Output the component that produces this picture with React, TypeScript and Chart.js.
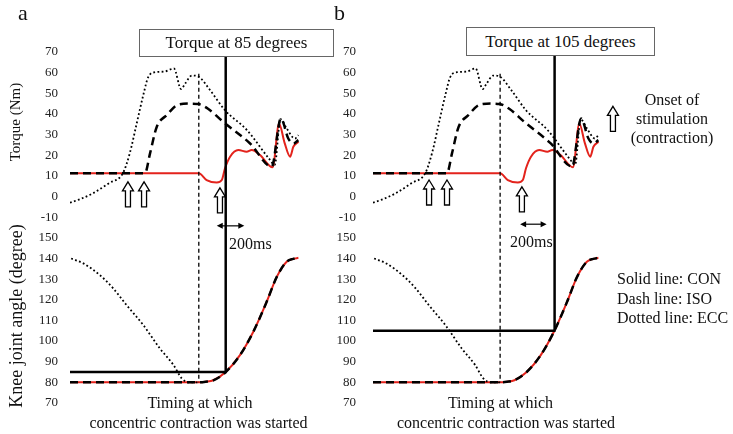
import React, { useEffect, useRef } from 'react';
import { Chart, registerables } from 'chart.js';
Chart.register(...registerables);

// ---- data (time in % of window, torque in Nm, angle in degrees) ----
const eccTorqueTime = [0, 5, 10, 17, 23, 26, 29, 32, 34, 37, 41, 45.2, 48.3, 50, 53, 56, 61, 67.4, 77, 87, 89, 91.5, 94.2, 97.8, 99.3];
const eccTorque = [-3, -1, 1.6, 6.5, 11.3, 21, 35.4, 49.8, 57.8, 60.2, 60.5, 62, 52, 54.6, 58.6, 58, 51.4, 41.8, 32.1, 17.7, 15.3, 37.5, 33, 28.1, 29.7];

const isoTorqueTime = [0, 32.6, 34.8, 37.7, 42, 47, 52, 55.8, 60, 66.7, 78.3, 87.7, 91.7, 94.9, 97.1, 99.3];
const isoTorque = [11.3, 11.3, 20.9, 33.7, 39.4, 44.5, 45, 44.8, 42.5, 36.1, 25.7, 14.5, 37.8, 28.1, 25.7, 27.3];

const conTorqueTime = [0, 56, 59.4, 63.8, 66, 67.4, 69.6, 73.2, 76.8, 79, 82.6, 88.1, 90.9, 93.3, 95.7, 97.1, 99.3];
const conTorque = [11.3, 11.3, 8, 6.8, 8, 13.7, 19.3, 22.5, 21.7, 22.5, 20.1, 14.2, 35.4, 26, 19.3, 24.1, 26.5];

const eccAngleTime = [0.5, 6, 13, 18.8, 24.6, 31.9, 39.1, 45, 48.6, 52, 56];
const eccAngle = [140, 137.5, 131.9, 125.5, 117.4, 107.7, 96.4, 88.4, 81.9, 80, 80];

const conIsoAngleTime = [0, 56, 59, 62.3, 67.7, 73.9, 79.7, 85.5, 89.9, 94.2, 97, 99.3];
const conIsoAngle = [80, 80, 80.3, 81, 85, 93.2, 104.5, 119, 131.1, 138.4, 139.8, 140.3];

const torqueTicks = [-10, 0, 10, 20, 30, 40, 50, 60, 70];
const angleTicks = [70, 80, 90, 100, 110, 120, 130, 140, 150];

const contractionStart = 56; // timing at which concentric contraction was started
const panelA = { refAngle: 85, refTime: 67.7, arrows: [[25.2, 7.1], [32.2, 7.1], [65.2, 4.2]], span: [63.8, 75.8, -14.2] };
const panelB = { refAngle: 105, refTime: 80, arrows: [[24.7, 8], [32.6, 8], [65.6, 4.7]], span: [64.8, 76.5, -13.4], onset: [105.7, 43.7] };

const FONT = "'Liberation Serif', 'Times New Roman', serif";
const RED = '#e3231c';

const pts = (xs: number[], ys: number[]) => xs.map((x, i) => ({ x, y: ys[i] }));

function hollowArrow(ctx: CanvasRenderingContext2D, cx: number, tipY: number) {
  const h = 25, headW = 11, shaftW = 5, headH = 9;
  ctx.beginPath();
  ctx.moveTo(cx, tipY);
  ctx.lineTo(cx + headW / 2, tipY + headH);
  ctx.lineTo(cx + shaftW / 2, tipY + headH);
  ctx.lineTo(cx + shaftW / 2, tipY + h);
  ctx.lineTo(cx - shaftW / 2, tipY + h);
  ctx.lineTo(cx - shaftW / 2, tipY + headH);
  ctx.lineTo(cx - headW / 2, tipY + headH);
  ctx.closePath();
  ctx.fillStyle = '#fff';
  ctx.fill();
  ctx.setLineDash([]);
  ctx.lineWidth = 1.3;
  ctx.strokeStyle = '#000';
  ctx.stroke();
}

function Panel({ cfg, left, width, axisWidth, tickPad, padRight }: any) {
  const ref = useRef<HTMLCanvasElement>(null);
  useEffect(() => {
    const annot = {
      id: 'annot',
      afterDatasetsDraw(chart: any) {
        const { ctx } = chart;
        const x = chart.scales.x, yT = chart.scales.yT, yA = chart.scales.yA;
        ctx.save();
        ctx.strokeStyle = '#000';
        ctx.lineWidth = 1.3;
        ctx.setLineDash([4, 3]);
        const xd = x.getPixelForValue(contractionStart);
        ctx.beginPath();
        ctx.moveTo(xd, yT.getPixelForValue(59.5));
        ctx.lineTo(xd, yA.getPixelForValue(80));
        ctx.stroke();
        ctx.setLineDash([]);
        ctx.lineWidth = 2.5;
        const xs = x.getPixelForValue(cfg.refTime);
        const ya = yA.getPixelForValue(cfg.refAngle);
        ctx.beginPath();
        ctx.moveTo(xs, yT.getPixelForValue(70));
        ctx.lineTo(xs, ya);
        ctx.stroke();
        ctx.beginPath();
        ctx.moveTo(x.getPixelForValue(0), ya);
        ctx.lineTo(xs + 1, ya);
        ctx.stroke();
        for (const [t, v] of cfg.arrows) hollowArrow(ctx, x.getPixelForValue(t), yT.getPixelForValue(v));
        if (cfg.onset) hollowArrow(ctx, x.getPixelForValue(cfg.onset[0]), yT.getPixelForValue(cfg.onset[1]));
        const x0 = x.getPixelForValue(cfg.span[0]);
        const x1 = x.getPixelForValue(cfg.span[1]);
        const yy = yT.getPixelForValue(cfg.span[2]);
        ctx.lineWidth = 1.2;
        ctx.beginPath();
        ctx.moveTo(x0 + 3, yy);
        ctx.lineTo(x1 - 3, yy);
        ctx.stroke();
        ctx.fillStyle = '#000';
        ctx.beginPath();
        ctx.moveTo(x0, yy); ctx.lineTo(x0 + 6, yy - 3); ctx.lineTo(x0 + 6, yy + 3); ctx.closePath();
        ctx.fill();
        ctx.beginPath();
        ctx.moveTo(x1, yy); ctx.lineTo(x1 - 6, yy - 3); ctx.lineTo(x1 - 6, yy + 3); ctx.closePath();
        ctx.fill();
        ctx.restore();
      },
    };
    const tickFont = { family: FONT, size: 13 };
    const line = (data: any, axis: string, style: any) => ({
      data, yAxisID: axis, pointRadius: 0, fill: false, cubicInterpolationMode: 'monotone', ...style,
    });
    const iso = { borderColor: '#000', borderWidth: 2.5, borderDash: [8, 5] };
    const ecc = { borderColor: '#000', borderWidth: 1.8, borderDash: [1.8, 2.4] };
    const con = { borderColor: RED, borderWidth: 2 };
    const yCommon = (ticksArr: number[]) => ({
      type: 'linear', position: 'left', stack: 'p',
      afterBuildTicks: (s: any) => { s.ticks = ticksArr.map((v) => ({ value: v })); },
      ticks: { font: tickFont, color: '#222', padding: tickPad, autoSkip: false, maxRotation: 0 },
      grid: { display: false, drawTicks: false },
      border: { display: false },
      afterFit: (s: any) => { s.width = axisWidth; },
    });
    const chart = new Chart(ref.current as HTMLCanvasElement, {
      type: 'line',
      data: {
        datasets: [
          line(pts(isoTorqueTime, isoTorque), 'yT', iso),
          line(pts(conIsoAngleTime, conIsoAngle), 'yA', iso),
          line(pts(eccTorqueTime, eccTorque), 'yT', ecc),
          line(pts(eccAngleTime, eccAngle), 'yA', ecc),
          line(pts(conTorqueTime, conTorque), 'yT', con),
          line(pts(conIsoAngleTime, conIsoAngle), 'yA', con),
        ] as any,
      },
      options: {
        responsive: false,
        animation: false,
        events: [],
        layout: { padding: { top: 52, bottom: 31, left: 0, right: padRight } },
        plugins: { legend: { display: false }, tooltip: { enabled: false }, title: { display: false } },
        scales: {
          x: { type: 'linear', min: 0, max: 100, display: false },
          yA: { ...yCommon(angleTicks), stackWeight: 8, min: angleTicks[0], max: angleTicks[angleTicks.length - 1] },
          yT: { ...yCommon(torqueTicks), stackWeight: 9, min: -20, max: torqueTicks[torqueTicks.length - 1] },
        },
      } as any,
      plugins: [annot],
    });
    return () => chart.destroy();
  }, []);
  return (
    <canvas ref={ref} width={width} height={434}
      style={{ position: 'absolute', left, top: 0, width, height: 434 }} />
  );
}

const txt = (f: number): React.CSSProperties => ({
  position: 'absolute', fontFamily: FONT, fontSize: f, color: '#111', whiteSpace: 'nowrap', lineHeight: 1,
});

function Box({ left, top, width, height, children }: any) {
  return (
    <div style={{
      position: 'absolute', left, top, width, height, boxSizing: 'border-box', border: '1px solid #666',
      background: '#fff', display: 'flex', alignItems: 'center', justifyContent: 'center',
      fontFamily: FONT, fontSize: 17, color: '#111', whiteSpace: 'nowrap',
    }}>{children}</div>
  );
}

function Centered({ cx, baseline, size, children }: any) {
  return <div style={{ ...txt(size), left: cx, top: baseline - 0.837 * size, transform: 'translateX(-50%)' }}>{children}</div>;
}

export default function App() {
  return (
    <div style={{ position: 'fixed', left: 0, top: 0, width: 733, height: 434, background: '#fff', overflow: 'hidden' }}>
      <Panel cfg={panelA} left={0} width={360} axisWidth={70} tickPad={12} padRight={60} />
      <Panel cfg={panelB} left={290} width={443} axisWidth={83} tickPad={17} padRight={133} />

      <div style={{ ...txt(22), left: 18, top: 2 }}>a</div>
      <div style={{ ...txt(22), left: 334, top: 2 }}>b</div>

      <Box left={139} top={29} width={195} height={28}>Torque at 85 degrees</Box>
      <Box left={466} top={27} width={189} height={29}>Torque at 105 degrees</Box>

      <div style={{ ...txt(15), left: 15, top: 122, transform: 'translate(-50%, -50%) rotate(-90deg)' }}>Torque (Nm)</div>
      <div style={{ ...txt(18), left: 16, top: 316, transform: 'translate(-50%, -50%) rotate(-90deg)' }}>Knee joint angle (degree)</div>

      <div style={{ ...txt(16), left: 229, top: 249 - 13.4 }}>200ms</div>
      <div style={{ ...txt(16), left: 510, top: 247 - 13.4 }}>200ms</div>

      <Centered cx={672} baseline={105} size={16}>Onset of</Centered>
      <Centered cx={672} baseline={124} size={16}>stimulation</Centered>
      <Centered cx={672} baseline={143} size={16}>(contraction)</Centered>

      <div style={{ ...txt(16), left: 617, top: 284.5 - 13.4 }}>Solid line: CON</div>
      <div style={{ ...txt(16), left: 617, top: 304 - 13.4 }}>Dash line: ISO</div>
      <div style={{ ...txt(16), left: 617, top: 323.5 - 13.4 }}>Dotted line: ECC</div>

      <Centered cx={200} baseline={408} size={16}>Timing at which</Centered>
      <Centered cx={198.5} baseline={428} size={16}>concentric contraction was started</Centered>
      <Centered cx={500.5} baseline={408} size={16}>Timing at which</Centered>
      <Centered cx={506} baseline={428} size={16}>concentric contraction was started</Centered>
    </div>
  );
}
